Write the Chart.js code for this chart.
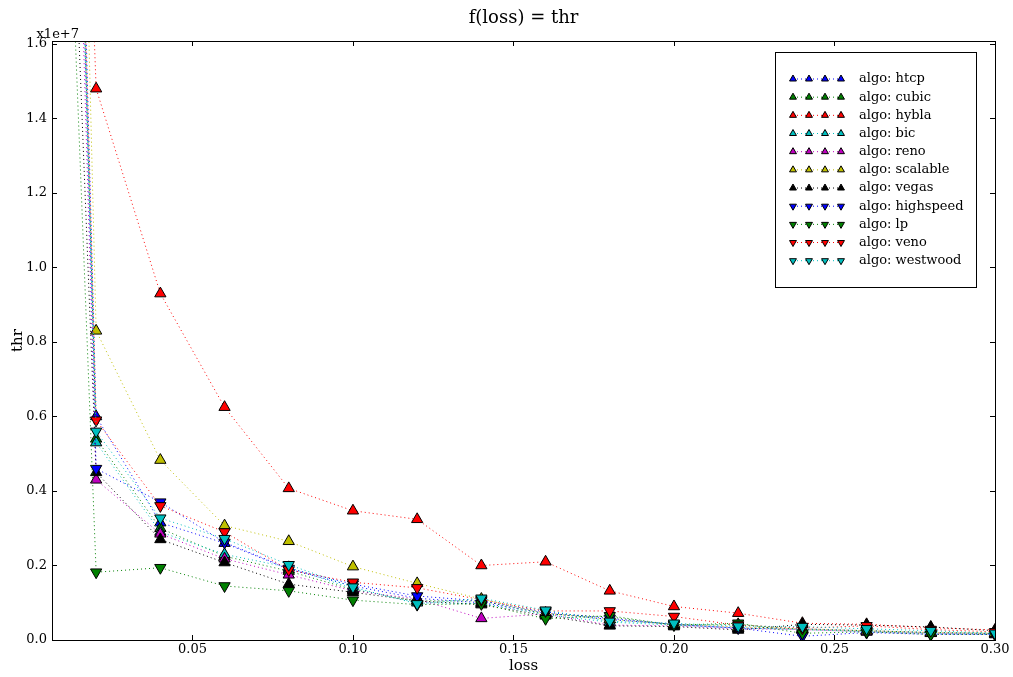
<!DOCTYPE html>
<html>
<head>
<meta charset="utf-8">
<script src="https://cdn.jsdelivr.net/npm/chart.js@4/dist/chart.umd.min.js"></script>
<style>
html, body { margin: 0; padding: 0; background: #fff; }
</style>
</head>
<body>
<canvas id="thrChart" width="1013" height="677"></canvas>
<script>
// loss values (x axis)
var loss = [0, 0.02, 0.04, 0.06, 0.08, 0.10, 0.12, 0.14, 0.16, 0.18, 0.20, 0.22, 0.24, 0.26, 0.28, 0.30];

// throughput per algorithm
var htcp      = [7.2e7, 6.0e6, 3.15e6, 2.6e6, 1.9e6, 1.45e6, 1.12e6, 1.0e6, 0.72e6, 0.55e6, 0.42e6, 0.32e6, 0.30e6, 0.25e6, 0.20e6, 0.17e6];
var cubic     = [6.8e7, 5.4e6, 3.0e6, 2.25e6, 1.85e6, 1.35e6, 1.05e6, 1.05e6, 0.70e6, 0.62e6, 0.40e6, 0.42e6, 0.28e6, 0.25e6, 0.20e6, 0.18e6];
var hybla     = [6.2e7, 1.48e7, 9.3e6, 6.25e6, 4.07e6, 3.47e6, 3.24e6, 2.0e6, 2.1e6, 1.32e6, 0.90e6, 0.72e6, 0.45e6, 0.42e6, 0.33e6, 0.27e6];
var bic       = [6.6e7, 5.3e6, 2.9e6, 2.3e6, 1.95e6, 1.38e6, 1.0e6, 0.98e6, 0.68e6, 0.48e6, 0.40e6, 0.32e6, 0.28e6, 0.22e6, 0.18e6, 0.15e6];
var reno      = [6.4e7, 4.3e6, 2.85e6, 2.18e6, 1.75e6, 1.32e6, 1.10e6, 0.58e6, 0.70e6, 0.40e6, 0.38e6, 0.30e6, 0.28e6, 0.22e6, 0.18e6, 0.15e6];
var scalable  = [7.8e7, 8.3e6, 4.83e6, 3.07e6, 2.65e6, 1.97e6, 1.52e6, 1.10e6, 0.72e6, 0.55e6, 0.42e6, 0.35e6, 0.30e6, 0.25e6, 0.20e6, 0.18e6];
var vegas     = [4.8e7, 4.5e6, 2.7e6, 2.08e6, 1.5e6, 1.28e6, 1.05e6, 0.95e6, 0.65e6, 0.38e6, 0.36e6, 0.27e6, 0.42e6, 0.40e6, 0.35e6, 0.25e6];
var highspeed = [7.0e7, 4.6e6, 3.7e6, 2.62e6, 1.92e6, 1.5e6, 1.18e6, 1.05e6, 0.75e6, 0.58e6, 0.42e6, 0.32e6, 0.10e6, 0.20e6, 0.15e6, 0.15e6];
var lp        = [4.6e7, 1.82e6, 1.94e6, 1.45e6, 1.32e6, 1.07e6, 0.95e6, 0.97e6, 0.57e6, 0.65e6, 0.40e6, 0.45e6, 0.18e6, 0.22e6, 0.15e6, 0.15e6];
var veno      = [7.0e7, 5.9e6, 3.6e6, 2.9e6, 1.88e6, 1.55e6, 1.40e6, 1.08e6, 0.78e6, 0.78e6, 0.63e6, 0.40e6, 0.32e6, 0.38e6, 0.28e6, 0.22e6];
var westwood  = [6.9e7, 5.6e6, 3.27e6, 2.72e6, 2.02e6, 1.42e6, 0.97e6, 1.12e6, 0.80e6, 0.50e6, 0.45e6, 0.37e6, 0.36e6, 0.30e6, 0.25e6, 0.18e6];

// tick positions
var xTicks = [0.05, 0.10, 0.15, 0.20, 0.25, 0.30];
var yTicks = [0, 2e6, 4e6, 6e6, 8e6, 1e7, 1.2e7, 1.4e7, 1.6e7];

var names  = ['htcp', 'cubic', 'hybla', 'bic', 'reno', 'scalable', 'vegas', 'highspeed', 'lp', 'veno', 'westwood'];
var series = [htcp, cubic, hybla, bic, reno, scalable, vegas, highspeed, lp, veno, westwood];
var colors = ['#0000ff', '#008000', '#ff0000', '#00bfbf', '#bf00bf', '#bfbf00', '#000000',
              '#0000ff', '#008000', '#ff0000', '#00bfbf'];

Chart.defaults.font.family = 'DejaVu Serif';
Chart.defaults.font.size = 13;
Chart.defaults.color = '#000';

// datasets
var datasets = [];
for (var i = 0; i < names.length; i++) {
	var pts = [];
	for (var j = 0; j < loss.length; j++) pts.push({x: loss[j], y: series[i][j]});
	datasets.push({
		label: 'algo: ' + names[i],
		data: pts,
		showLine: true,
		borderColor: colors[i],
		borderWidth: 1,
		borderDash: [1, 3],
		pointStyle: 'triangle',
		pointRotation: i < 7 ? 0 : 180,
		pointRadius: 6.5,
		pointBackgroundColor: colors[i],
		pointBorderColor: '#000',
		pointBorderWidth: 1,
		order: -i,
		clip: 0
	});
}

// frame, inward ticks, offset text
var frame = {
	id: 'frame',
	afterDatasetsDraw: function(chart) {
		var ctx = chart.ctx, a = chart.chartArea;
		ctx.save();
		ctx.strokeStyle = '#000';
		ctx.lineWidth = 1;
		ctx.strokeRect(Math.round(a.left) + 0.5, Math.round(a.top) + 0.5,
			Math.round(a.right - a.left), Math.round(a.bottom - a.top));
		var tl = 5;
		ctx.beginPath();
		chart.scales.x.ticks.forEach(function(t) {
			var px = Math.round(chart.scales.x.getPixelForValue(t.value)) + 0.5;
			ctx.moveTo(px, a.bottom); ctx.lineTo(px, a.bottom - tl);
			ctx.moveTo(px, a.top); ctx.lineTo(px, a.top + tl);
		});
		chart.scales.y.ticks.forEach(function(t) {
			var py = Math.round(chart.scales.y.getPixelForValue(t.value)) + 0.5;
			ctx.moveTo(a.left, py); ctx.lineTo(a.left + tl, py);
			ctx.moveTo(a.right, py); ctx.lineTo(a.right - tl, py);
		});
		ctx.stroke();
		ctx.fillStyle = '#000';
		ctx.font = '13px "DejaVu Serif"';
		ctx.textAlign = 'right';
		ctx.textBaseline = 'alphabetic';
		ctx.fillText('x1e+7', 79, a.top - 3);
		ctx.restore();
	}
};

// legend box like matplotlib
var boxLegend = {
	id: 'boxLegend',
	afterDraw: function(chart) {
		var ctx = chart.ctx;
		var bx = 775, by = 52, bw = 201, bh = 235;
		ctx.save();
		ctx.fillStyle = '#fff';
		ctx.fillRect(bx, by, bw, bh);
		ctx.strokeStyle = '#000';
		ctx.lineWidth = 1;
		ctx.strokeRect(bx + 0.5, by + 0.5, bw, bh);
		chart.data.datasets.forEach(function(ds, k) {
			var y = 79 + k * 18.17;
			ctx.save();
			ctx.strokeStyle = ds.borderColor;
			ctx.setLineDash([1, 3]);
			ctx.beginPath();
			ctx.moveTo(793, y); ctx.lineTo(841, y);
			ctx.stroke();
			ctx.restore();
			[793, 809, 825, 841].forEach(function(mx) {
				ctx.fillStyle = ds.pointBackgroundColor;
				ctx.strokeStyle = '#000';
				Chart.helpers.drawPoint(ctx, {pointStyle: 'triangle', rotation: ds.pointRotation,
					radius: 4, borderWidth: 1}, mx, y);
			});
			ctx.fillStyle = '#000';
			ctx.font = '13px "DejaVu Serif"';
			ctx.textAlign = 'left';
			ctx.textBaseline = 'middle';
			ctx.fillText(ds.label, 859, y);
		});
		ctx.restore();
	}
};

var config = {
	type: 'scatter',
	data: { datasets: datasets },
	options: {
		responsive: false,
		animation: false,
		layout: { padding: { left: 0, right: 18, top: 0, bottom: 0 } },
		plugins: {
			legend: { display: false },
			tooltip: { enabled: false },
			title: {
				display: true,
				fullSize: false,
				text: 'f(loss) = thr',
				font: { size: 18, weight: 'normal' },
				padding: { top: 8, bottom: 11.4 }
			}
		},
		scales: {
			x: {
				type: 'linear',
				bounds: 'data',
				min: 0.00625,
				max: 0.30,
				grid: { display: false, drawTicks: false },
				border: { display: false },
				afterBuildTicks: function(s) {
					s.ticks = xTicks.map(function(v) { return {value: v}; });
				},
				ticks: {
					padding: 2,
					maxRotation: 0,
					callback: function(v) { return v.toFixed(2); }
				},
				title: { display: true, text: 'loss', font: { size: 15 }, padding: { top: 0, bottom: 2 } },
				afterFit: function(s) { s.height = 37; }
			},
			y: {
				type: 'linear',
				bounds: 'data',
				min: 0,
				max: 1.608e7,
				grid: { display: false, drawTicks: false },
				border: { display: false },
				afterBuildTicks: function(s) {
					s.ticks = yTicks.map(function(v) { return {value: v}; });
				},
				ticks: {
					padding: 5,
					callback: function(v) { return (v / 1e7).toFixed(1); }
				},
				title: { display: true, text: 'thr', font: { size: 15 }, padding: { top: 9, bottom: 0 } },
				afterFit: function(s) { s.width = 52; }
			}
		}
	},
	plugins: [frame, boxLegend]
};

var ctx1 = document.getElementById('thrChart').getContext('2d');
new Chart(ctx1, config);
</script>
</body>
</html>
